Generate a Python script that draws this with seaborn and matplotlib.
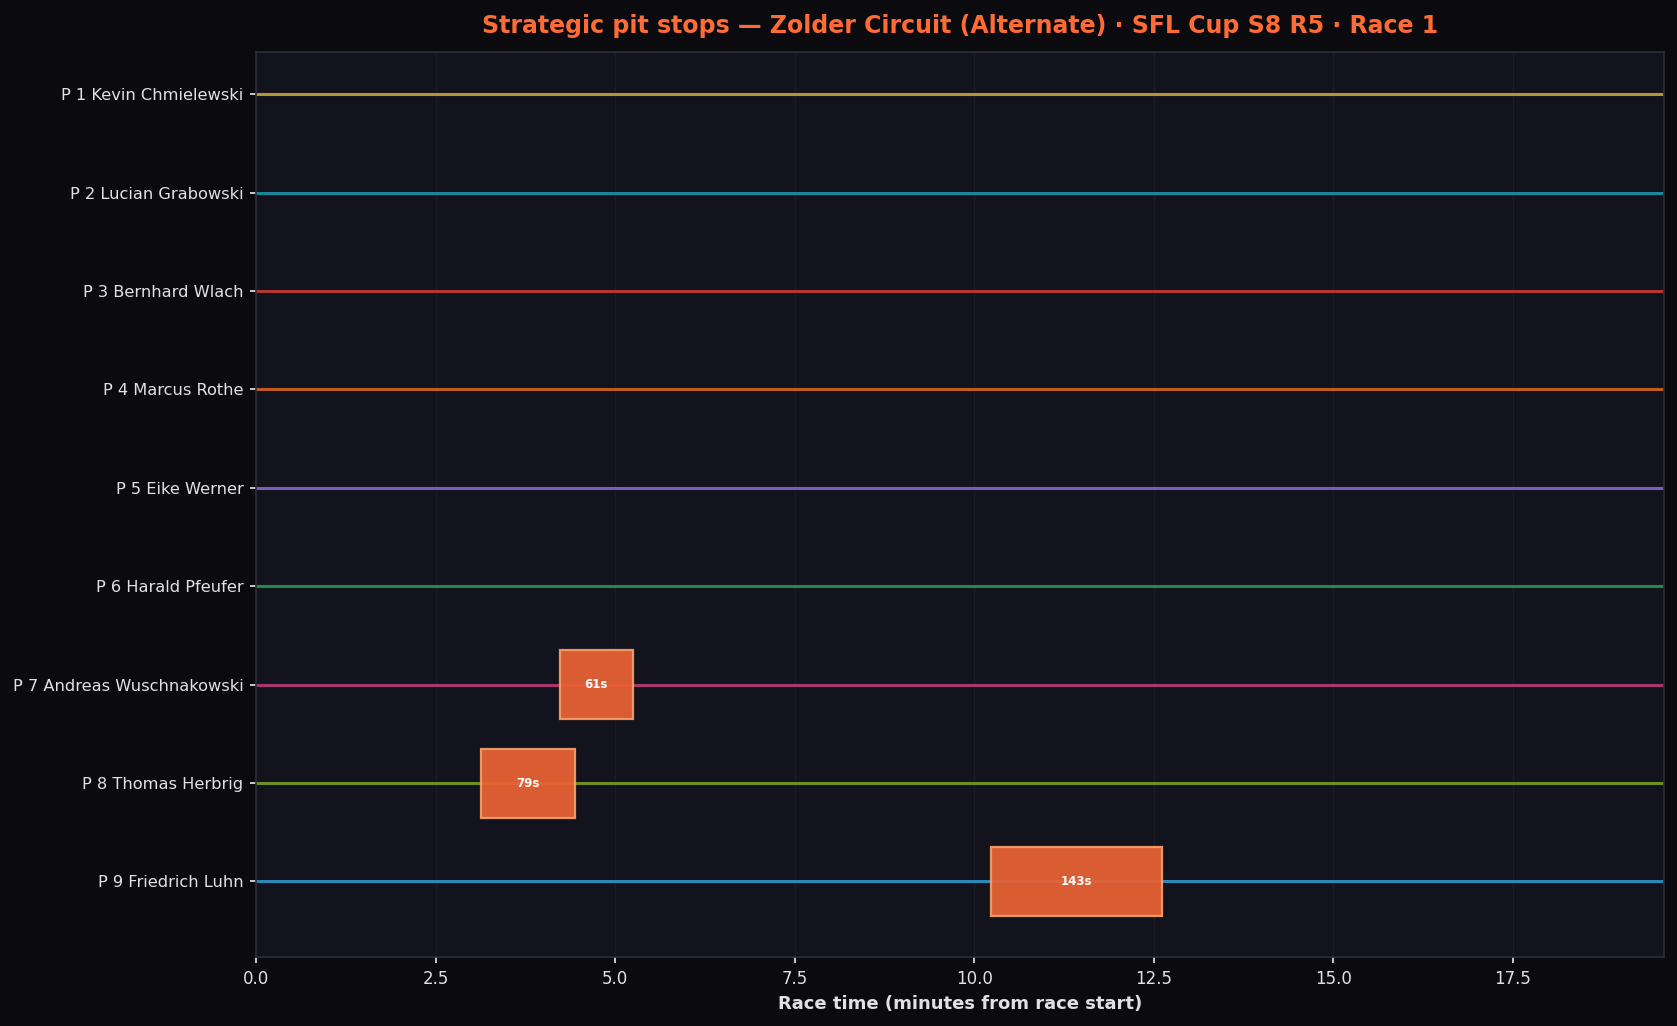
import matplotlib
matplotlib.use("Agg")
import matplotlib.pyplot as plt
import seaborn as sns
import pandas as pd

drivers = [
    "P 1 Kevin Chmielewski",
    "P 2 Lucian Grabowski",
    "P 3 Bernhard Wlach",
    "P 4 Marcus Rothe",
    "P 5 Eike Werner",
    "P 6 Harald Pfeufer",
    "P 7 Andreas Wuschnakowski",
    "P 8 Thomas Herbrig",
    "P 9 Friedrich Luhn",
]
driver_colors = [
    "#b5952f", "#18879b", "#b33636", "#c05a22", "#7e5cb8",
    "#1f8a4c", "#a8386c", "#6b8e23", "#2a88b8",
]
stop_drivers = ["P 7 Andreas Wuschnakowski", "P 8 Thomas Herbrig", "P 9 Friedrich Luhn"]
stop_start_min = [4.23, 3.13, 10.23]
stop_dur_s = [61, 79, 143]
race_end_min = 19.61

BG = "#0b0b0f"
AX_BG = "#12131c"
TXT = "#e0e0e6"

sns.set_theme(style="dark", rc={
    "figure.facecolor": BG,
    "axes.facecolor": AX_BG,
    "axes.edgecolor": "#2c2d38",
    "axes.labelcolor": TXT,
    "xtick.color": TXT,
    "ytick.color": TXT,
    "text.color": TXT,
    "grid.color": "#1a1b25",
    "xtick.bottom": True,
    "ytick.left": True,
})
plt.rcParams["font.family"] = ["DejaVu Sans"]

fig = plt.figure(figsize=(16.77, 10.26), dpi=100)
ax = fig.add_axes([0.1527, 0.067, 0.8397, 0.882])

ypos = {d: i for i, d in enumerate(drivers)}
for d, c in zip(drivers, driver_colors):
    ax.axhline(ypos[d], color=c, lw=2.2, zorder=2)

stops = pd.DataFrame({"driver": stop_drivers, "start": stop_start_min, "dur": stop_dur_s})
for _, r in stops.iterrows():
    y = ypos[r["driver"]]
    w = r["dur"] / 60.0
    ax.barh(y, w, left=r["start"], height=0.7, color="#ea6234", alpha=0.93,
            edgecolor="#f5a068", linewidth=1.6, zorder=3)
    ax.text(r["start"] + w / 2, y, f"{r['dur']}s", ha="center", va="center",
            fontsize=8.5, fontweight="bold", color="white", zorder=4)

ax.set_yticks(range(len(drivers)))
ax.set_yticklabels(drivers, fontsize=11.7)
ax.set_ylim(8.77, -0.425)
ax.set_xlim(0, race_end_min)
ax.tick_params(axis="x", labelsize=12, length=4, color=TXT, pad=5.5)
ax.tick_params(axis="y", length=4, color=TXT, pad=5)
ax.grid(axis="x", color="#1a1b25", lw=1)
ax.grid(axis="y", visible=False)
ax.set_xlabel("Race time (minutes from race start)", fontsize=13, fontweight="bold", labelpad=5)
ax.set_title("Strategic pit stops — Zolder Circuit (Alternate) · SFL Cup S8 R5 · Race 1",
             fontsize=17, fontweight="bold", color="#ff6b35", pad=14)
for s in ax.spines.values():
    s.set_color("#2c2d38")

fig.savefig("out.png", dpi=100, facecolor=BG)
